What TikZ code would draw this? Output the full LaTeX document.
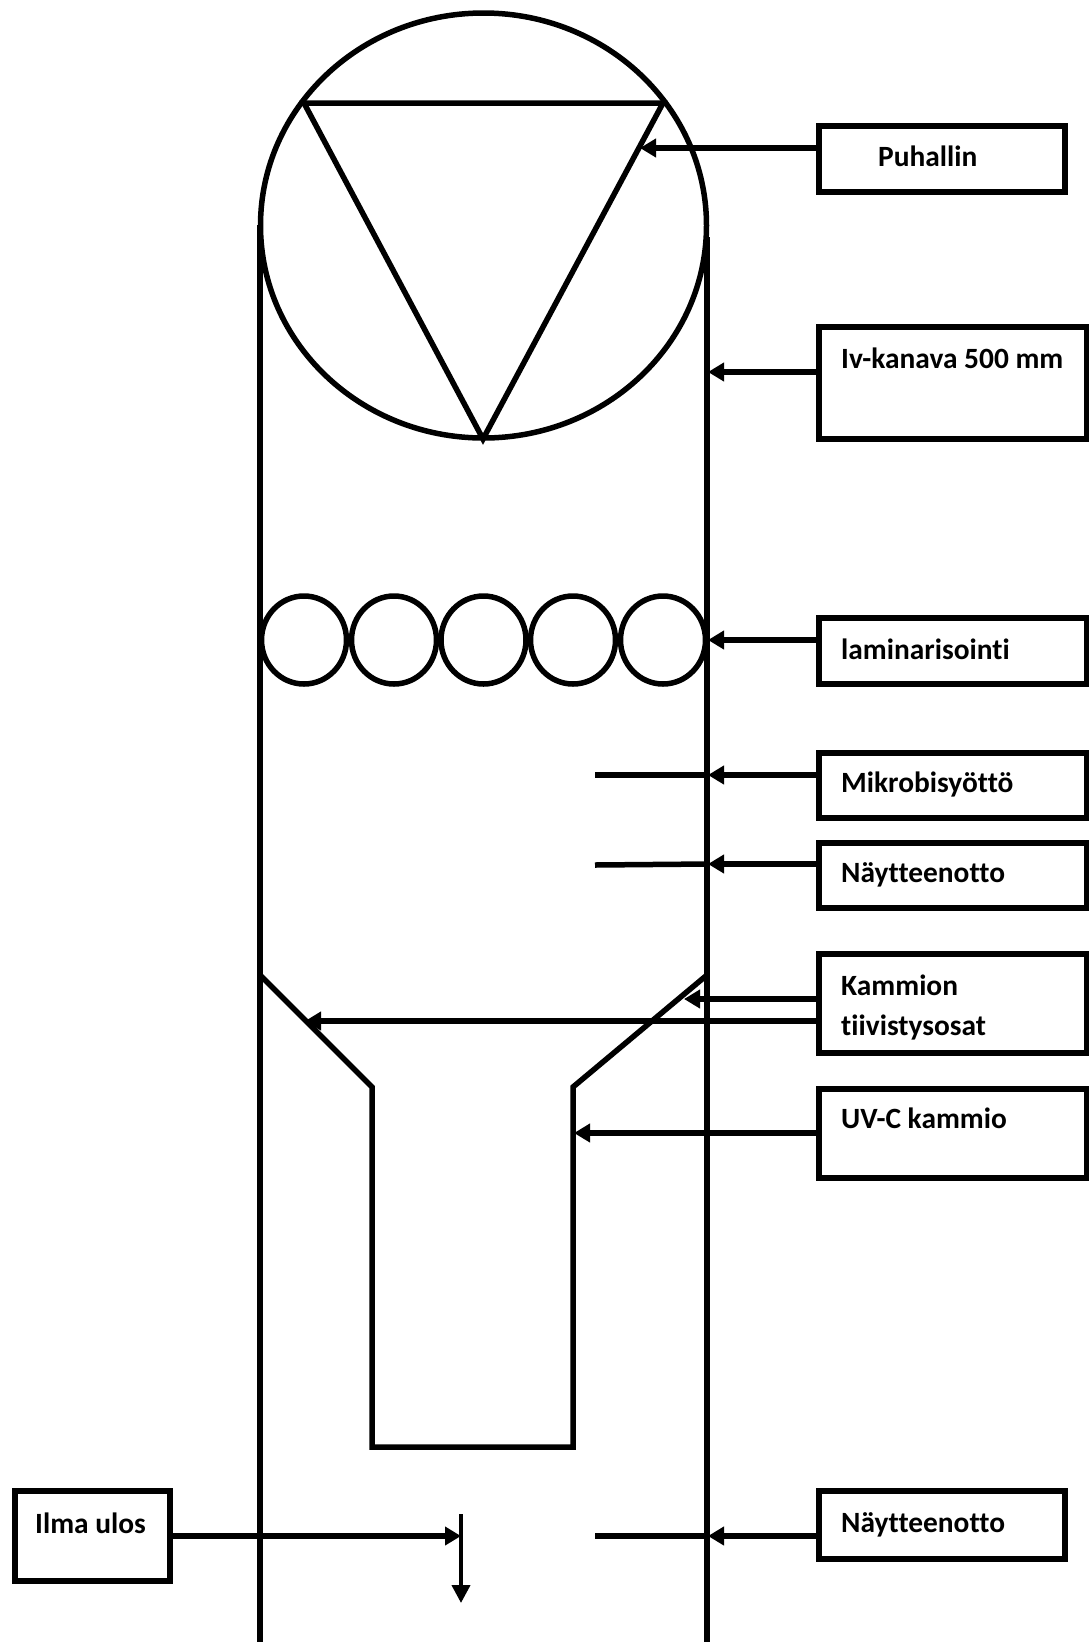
\documentclass[tikz,border=0pt]{standalone}
\usepackage{fontspec}
\setmainfont[Ligatures=NoCommon]{Carlito}
\usetikzlibrary{arrows.meta,shapes.geometric}

\tikzset{
  boxnode/.style={draw, line width=6pt, outer sep=0pt, inner sep=0pt},
  boxlabel/.style={anchor=west, inner sep=0pt, font=\fontsize{29.4}{34}\selectfont\bfseries},
  wall/.style={line width=5.5pt},
  pointer/.style={line width=6pt, -{Triangle[length=16pt,width=18pt]}},
  kiekko/.style={draw, ellipse, line width=5.5pt, inner sep=0pt, outer sep=0pt}
}

\begin{document}
\begin{tikzpicture}[x=1pt, y=-1pt]
  \useasboundingbox (0,0) rectangle (1088,1642);

  % kanava
  \coordinate (wallLtop) at (260,225);
  \coordinate (wallLbot) at (260,1642);
  \coordinate (wallRtop) at (707,237);
  \coordinate (wallRbot) at (707,1642);
  \draw[wall] (wallLtop) -- (wallLbot);
  \draw[wall] (wallRtop) -- (wallRbot);

  % puhallin
  \node[kiekko, minimum width=446pt, minimum height=425pt] (fan) at (483.5,225.5) {};
  \coordinate (triA) at (304,103);
  \coordinate (triB) at (663,103);
  \coordinate (triC) at (483,439);
  \draw[wall, line join=miter] (triA) -- (triB) -- (triC) -- cycle;

  % laminarisointi
  \foreach \i/\x in {1/304, 2/394, 3/483.5, 4/573, 5/663} {
    \node[kiekko, minimum width=85pt, minimum height=88pt] (lam\i) at (\x,640) {};
  }

  % kammio
  \coordinate (funLa) at (260,975);
  \coordinate (funLb) at (372,1087);
  \coordinate (funRa) at (707,975);
  \coordinate (funRb) at (573,1087);
  \coordinate (kamLb) at (372,1447);
  \coordinate (kamRb) at (573,1447);
  \draw[wall] (funLa) -- (funLb) -- (kamLb) -- (kamRb) -- (funRb) -- (funRa);

  % laatikot
  \node[boxnode, minimum width=246pt, minimum height=66.5pt] (puhallin) at (942,159) {};
  \node[boxnode, minimum width=268pt, minimum height=112pt] (ivkanava) at (953,382.5) {};
  \node[boxnode, minimum width=268pt, minimum height=66pt] (laminar) at (953,651) {};
  \node[boxnode, minimum width=268pt, minimum height=65pt] (mikrobi) at (953,785) {};
  \node[boxnode, minimum width=268pt, minimum height=65pt] (naytteet) at (953,875) {};
  \node[boxnode, minimum width=268pt, minimum height=99pt] (tiiviste) at (953,1003) {};
  \node[boxnode, minimum width=268pt, minimum height=89pt] (uvkammio) at (953,1133) {};
  \node[boxnode, minimum width=155pt, minimum height=89.5pt] (ilma) at (92.5,1536) {};
  \node[boxnode, minimum width=246pt, minimum height=67.5pt] (naytteetB) at (942,1525) {};

  % tekstit
  \node[boxlabel] (puhallinT) at (878,156) {Puhallin};
  \node[boxlabel] (ivkanavaT) at (841,358) {Iv-kanava 500 mm};
  \node[boxlabel] (laminarT) at (841,649) {laminarisointi};
  \node[boxlabel] (mikrobiT) at (841,784) {Mikrobisyöttö};
  \node[boxlabel] (naytteetT) at (841,875) {Näytteenotto};
  \node[boxlabel] (tiivisteT) at (841,985) {Kammion};
  \node[boxlabel] (tiivisteU) at (841,1027) {tiivistysosat};
  \node[boxlabel] (uvkammioT) at (841,1118) {UV-C kammio};
  \node[boxlabel] (ilmaT) at (35,1523) {Ilma ulos};
  \node[boxlabel] (naytteetC) at (841,1525) {Näytteenotto};

  % nuolet
  \coordinate (tipFan) at (640,148);
  \coordinate (tipDuct) at (708,372);
  \coordinate (tipLam) at (708,640);
  \coordinate (tipMik) at (708,775);
  \coordinate (tipNay) at (708,864);
  \coordinate (tipSealR) at (684,999);
  \coordinate (tipSealL) at (305,1021);
  \coordinate (tipUv) at (574,1133);
  \coordinate (tipNayB) at (708,1536);
  \draw[pointer] (puhallin.west |- tipFan) -- (tipFan);
  \draw[pointer] (ivkanava.west |- tipDuct) -- (tipDuct);
  \draw[pointer] (laminar.west |- tipLam) -- (tipLam);
  \draw[pointer] (mikrobi.west |- tipMik) -- (tipMik);
  \draw[pointer] (naytteet.west |- tipNay) -- (tipNay);
  \draw[pointer] (tiiviste.west |- tipSealR) -- (tipSealR);
  \draw[pointer] (tiiviste.west |- tipSealL) -- (tipSealL);
  \draw[pointer] (uvkammio.west |- tipUv) -- (tipUv);
  \draw[pointer] (naytteetB.west |- tipNayB) -- (tipNayB);

  % sisaantulot
  \coordinate (inMik) at (595,775);
  \coordinate (inNay) at (595,865);
  \coordinate (inNayB) at (595,1536);
  \draw[wall] (inMik) -- (tipMik);
  \draw[wall] (inNay) -- (tipNay);
  \draw[wall] (inNayB) -- (tipNayB);

  % ilma ulos
  \coordinate (outTop) at (461,1514);
  \coordinate (outMid) at (461,1536);
  \coordinate (outEnd) at (461,1603);
  \draw[pointer] (ilma.east |- outMid) -- (outMid);
  \draw[line width=4pt, -{Triangle[length=18pt,width=18pt]}] (outTop) -- (outEnd);
\end{tikzpicture}
\end{document}
